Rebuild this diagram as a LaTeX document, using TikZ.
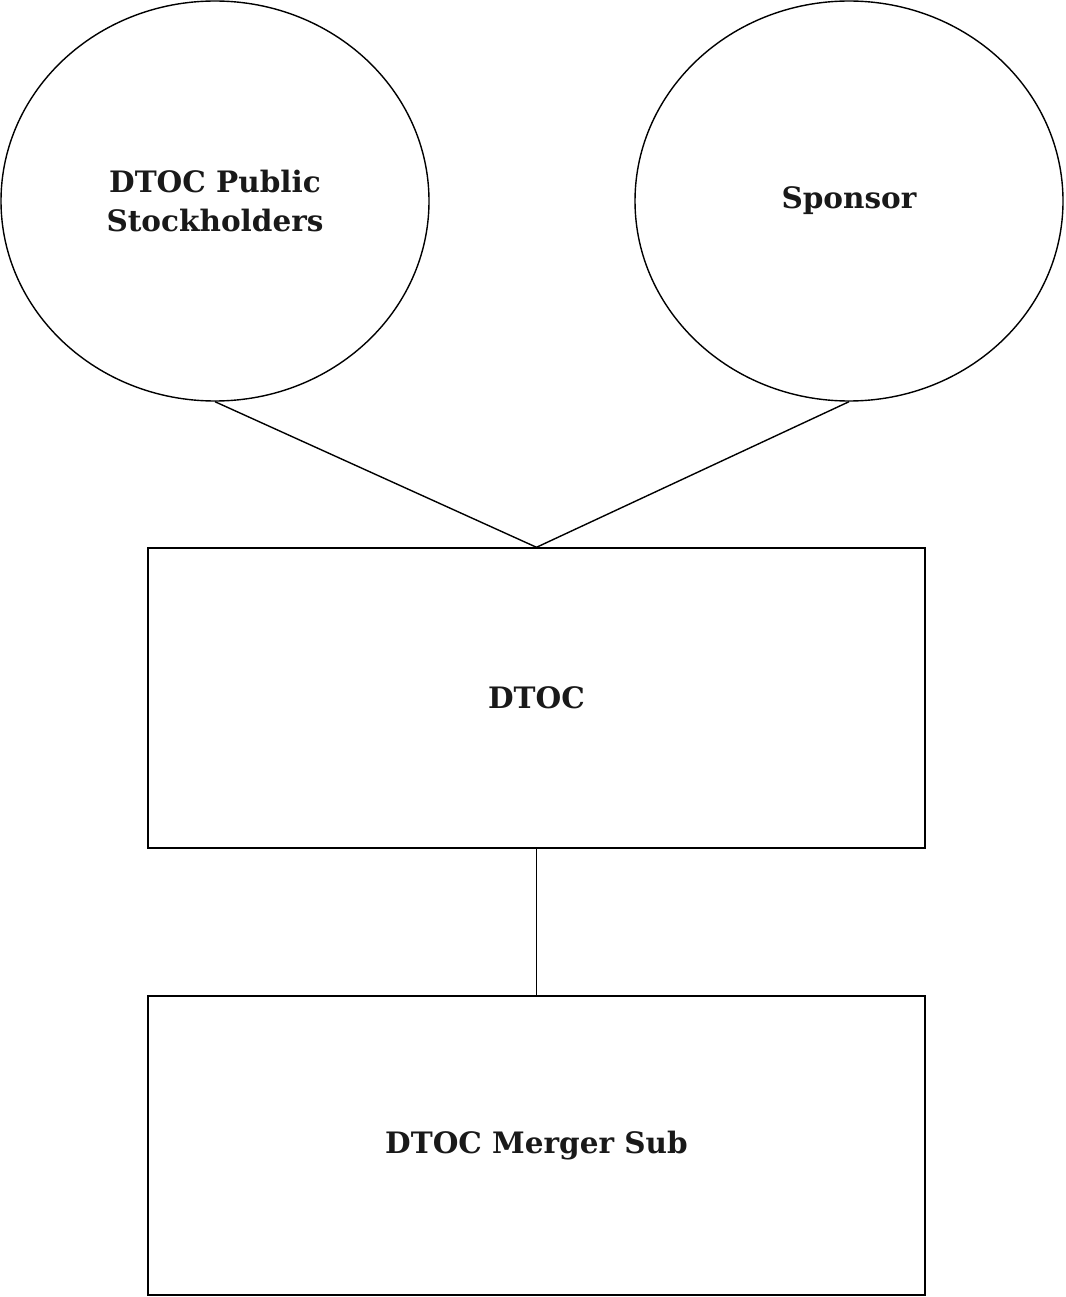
\documentclass[tikz,border=0pt]{standalone}
\usepackage{fontspec}
\setmainfont{DejaVu Serif}
\usetikzlibrary{shapes.geometric}
\begin{document}
\begin{tikzpicture}[x=1pt,y=-1pt,
  lbl/.style={font=\bfseries\fontsize{29.5}{39}\selectfont, text=black!90, align=center},
  oval/.style={draw, ellipse, line width=1.4pt, inner sep=0pt, minimum width=428pt, minimum height=400pt, lbl},
  boxx/.style={draw, rectangle, line width=1.4pt, inner sep=0pt, minimum width=777pt, lbl},
  conn/.style={line width=1.4pt}]
\useasboundingbox (0,0) rectangle (1065,1297);
\node[oval] (pub) at (215,201) {DTOC Public\\Stockholders};
\node[oval] (spon) at (849,201) {Sponsor};
\node[boxx, minimum height=300pt] (dtoc) at (536.5,698) {DTOC};
\node[boxx, minimum height=299pt] (sub) at (536.5,1145.5) {DTOC Merger Sub};
\draw[conn] (pub.south) -- (dtoc.north);
\draw[conn] (spon.south) -- (dtoc.north);
\draw[conn] (dtoc.south) -- (sub.north);
\end{tikzpicture}
\end{document}
